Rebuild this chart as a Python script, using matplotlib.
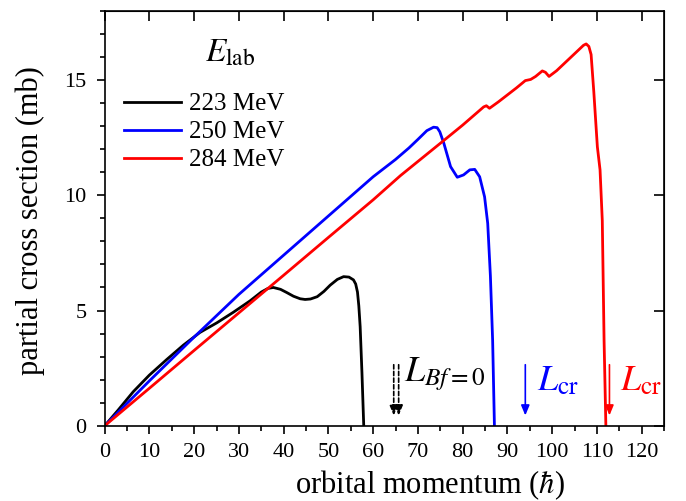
import matplotlib
matplotlib.use("Agg")
import matplotlib.pyplot as plt
import numpy as np
from matplotlib.ticker import MultipleLocator

plt.rcParams['font.family'] = ['Liberation Serif', 'DejaVu Serif']
plt.rcParams['mathtext.fontset'] = 'stix'

# 223 MeV
L_223 = [0, 3, 6.4, 10, 13.9, 17.6, 21.3, 25.1, 28.8, 32.5, 35, 36.5, 37.7, 39.3, 40.7, 42.2, 43.7,
         44.8, 46, 47.5, 49, 50.4, 52, 53.4, 54.6, 55.6, 56.1, 56.5, 56.8, 57.1, 57.5, 57.9]
S_223 = [0, 0.68, 1.48, 2.2, 2.88, 3.5, 4.05, 4.47, 4.93, 5.42, 5.8, 5.96, 6.0, 5.92, 5.78, 5.62, 5.51,
         5.48, 5.5, 5.6, 5.83, 6.1, 6.35, 6.47, 6.45, 6.33, 6.15, 5.8, 5.2, 4.3, 2.3, 0]
# 250 MeV
L_250 = [0, 10, 20, 30, 40, 50, 60, 65, 68, 70, 72, 73.5, 74.3, 74.9, 75.8,
         77.3, 78.8, 80.2, 81.6, 82.7, 83.8, 84.9, 85.6, 86.2, 86.7, 87.1]
S_250 = [0, 1.95, 3.85, 5.7, 7.4, 9.1, 10.8, 11.55, 12.05, 12.42, 12.8, 12.95, 12.93, 12.75, 12.25,
         11.24, 10.78, 10.88, 11.1, 11.12, 10.8, 9.93, 8.78, 6.5, 3.7, 0]
# 284 MeV
L_284 = [0, 10, 20, 30, 40, 50, 60, 66.1, 75, 80, 84.7, 85.3, 86.0, 88, 92, 94, 95.2, 96.3,
         97.8, 98.5, 99.3, 101, 104, 107, 107.6, 108.2, 108.7, 109.3, 110.1, 110.7, 111.2, 111.6, 112.0]
S_284 = [0, 1.63, 3.27, 4.9, 6.53, 8.17, 9.8, 10.85, 12.25, 13.04, 13.83, 13.88, 13.77, 14.05, 14.65, 14.97,
         15.02, 15.15, 15.39, 15.33, 15.15, 15.4, 15.95, 16.5, 16.56, 16.45, 16.1, 14.5, 12.1, 11.1, 8.9, 3.7, 0]

labels = ['223 MeV', '250 MeV', '284 MeV']
colors = ['black', 'blue', 'red']

L_Bf0 = [64.6, 65.7]
L_cr = [94.0, 112.8]

fig = plt.figure(figsize=(6.86, 5.01), dpi=100)
ax = fig.add_axes([0.1525, 0.150, 0.8155, 0.8286])

for L, S, lab, c in zip([L_223, L_250, L_284], [S_223, S_250, S_284], labels, colors):
    ax.plot(L, S, color=c, lw=2.0, label=lab, solid_joinstyle='round')

ax.set_xlim(0, 125)
ax.set_ylim(0, 18)
ax.xaxis.set_major_locator(MultipleLocator(10))
ax.xaxis.set_minor_locator(MultipleLocator(5))
ax.yaxis.set_major_locator(MultipleLocator(5))
ax.yaxis.set_minor_locator(MultipleLocator(1))
ax.tick_params(axis='both', which='major', direction='out', length=6, width=1.2, labelsize=16,
               top=False, right=False)
ax.tick_params(axis='y', which='major', pad=7)
ax.tick_params(axis='x', which='major', pad=6)
ax.tick_params(axis='both', which='minor', direction='out', length=3.5, width=1.2,
               top=False, right=False)
for sp in ax.spines.values():
    sp.set_linewidth(1.2)

# inward major ticks on top and right
sec_x = ax.secondary_xaxis('top')
sec_x.xaxis.set_major_locator(MultipleLocator(10))
sec_x.tick_params(direction='in', length=7, width=1.2, labeltop=False)
sec_y = ax.secondary_yaxis('right')
sec_y.yaxis.set_major_locator(MultipleLocator(5))
sec_y.tick_params(direction='in', length=7, width=1.2, labelright=False)

ax.set_xlabel(r'orbital momentum ($\hbar$)', fontsize=22)
ax.xaxis.set_label_coords(0.582, -0.103)
ax.set_ylabel('partial cross section (mb)', fontsize=22)
ax.yaxis.set_label_coords(-0.106, 0.495)

leg = ax.legend(loc='upper left', bbox_to_anchor=(0.034, 0.802), frameon=False,
                fontsize=18, handlelength=2.3, handletextpad=0.3, labelspacing=0.22,
                borderaxespad=0, borderpad=0)
ax.text(22.5, 15.78, r'$E_{\mathrm{lab}}$', fontsize=24, color='black', va='baseline')

y0, y1 = 2.65, 0.45
for x in L_Bf0:
    ax.annotate('', xy=(x, y1), xytext=(x, y0),
                arrowprops=dict(arrowstyle='-|>,head_length=0.6,head_width=0.25', color='black',
                                lw=1.2, linestyle=(0, (2.5, 1.5)), shrinkA=0, shrinkB=0))
for x, c in zip(L_cr, ['blue', 'red']):
    ax.annotate('', xy=(x, y1), xytext=(x, y0),
                arrowprops=dict(arrowstyle='-|>,head_length=0.6,head_width=0.25', color=c,
                                lw=1.2, shrinkA=0, shrinkB=0))

ax.text(66.8, 1.95, r'$L_{Bf=0}$', fontsize=26, color='black', va='baseline')
ax.text(96.6, 1.55, r'$L_{\mathrm{cr}}$', fontsize=26, color='blue', va='baseline')
ax.text(115.2, 1.55, r'$L_{\mathrm{cr}}$', fontsize=26, color='red', va='baseline')

fig.savefig('out.png', dpi=100)
